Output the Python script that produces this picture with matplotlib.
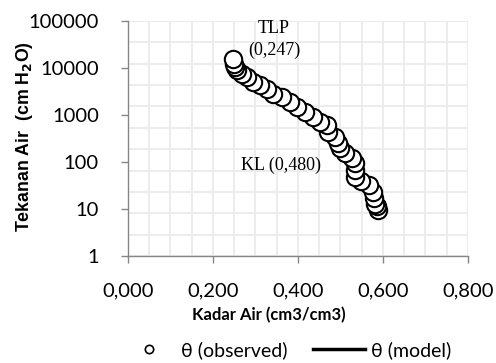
import numpy as np
import matplotlib
matplotlib.use('Agg')
import matplotlib.pyplot as plt
from matplotlib.lines import Line2D
from matplotlib.ticker import FixedLocator, FuncFormatter, NullLocator

# soil water retention data (wet -> dry)
theta_obs = [0.588, 0.586, 0.582, 0.580, 0.576, 0.568, 0.548, 0.535, 0.534, 0.534,
             0.527, 0.511, 0.499, 0.494, 0.487, 0.471, 0.468, 0.452, 0.436, 0.416,
             0.397, 0.381, 0.362, 0.342, 0.326, 0.310, 0.295, 0.279, 0.268, 0.257,
             0.252, 0.249, 0.246]
h_obs = [9.5, 11.5, 13, 17, 23, 32, 40, 48, 67, 94,
         121, 154, 196, 251, 337, 429, 604, 710, 907, 1160,
         1480, 1890, 2410, 2850, 3640, 4280, 5020, 6410, 7570, 8890,
         10400, 12300, 15700]
theta_model = theta_obs
h_model = h_obs

x_ticks = [0.0, 0.2, 0.4, 0.6, 0.8]
y_ticks = [1, 10, 100, 1000, 10000, 100000]

plt.rcParams['font.family'] = ['Lato', 'DejaVu Sans']

fig = plt.figure(figsize=(4.96, 3.63), dpi=100)
ax = fig.add_axes([0.258, 0.2948, 0.6855, 0.6473])

# light square background grid
for i in range(1, 17):
    ax.plot([i / 16, i / 16], [0, 1], transform=ax.transAxes, color='#ebebeb', lw=1.3, zorder=0)
for i in range(0, 12):
    ax.plot([0, 1], [i / 11, i / 11], transform=ax.transAxes, color='#ebebeb', lw=1.3, zorder=0)

ax.plot(theta_model, h_model, color='black', lw=2.5, zorder=2)
ax.plot(theta_obs, h_obs, ls='none', marker='o', ms=12.5, mfc='white', mec='black', mew=1.5, zorder=3)

ax.set_yscale('log')
ax.set_xlim(0, 0.8)
ax.set_ylim(1, 100000)
ax.xaxis.set_major_locator(FixedLocator(x_ticks))
ax.yaxis.set_major_locator(FixedLocator(y_ticks))
ax.yaxis.set_minor_locator(NullLocator())
ax.xaxis.set_major_formatter(FuncFormatter(lambda v, p: ('%.3f' % v).replace('.', ',')))
ax.yaxis.set_major_formatter(FuncFormatter(lambda v, p: '%d' % v))
ax.tick_params(axis='both', labelsize=14.5, color='#868686', length=5, width=1, labelcolor='#000000')
ax.tick_params(axis='x', pad=14)
ax.tick_params(axis='y', pad=16)

for s in ['top', 'right']:
    ax.spines[s].set_visible(False)
for s in ['left', 'bottom']:
    ax.spines[s].set_color('#868686')
    ax.spines[s].set_linewidth(1)

ax.text(0.3435, 69500, 'TLP', ha='center', va='center', fontsize=13, family='Liberation Serif')
ax.text(0.3435, 23600, '(0,247)', ha='center', va='center', fontsize=13, family='Liberation Serif')
ax.text(0.359, 85.5, 'KL (0,480)', ha='center', va='center', fontsize=13, family='Liberation Serif')

fig.text(25 / 496, 1 - 136.5 / 363, 'Tekanan Air  (cm H$_\\mathbf{2}$O)', rotation=90, ha='center',
         va='center', fontsize=12.8, fontweight='bold', family='Liberation Sans')
fig.text(269 / 496, 1 - 315 / 363, 'Kadar Air (cm3/cm3)', ha='center', va='center',
         fontsize=12, fontweight='bold')

handles = [Line2D([], [], ls='none', marker='o', ms=6, mfc='white', mec='black', mew=1.2),
           Line2D([], [], color='black', lw=2.5)]
fig.legend(handles, ['θ (observed)', 'θ (model)'], loc='center', ncol=2,
           bbox_to_anchor=(287 / 496, 1 - 350 / 363), frameon=False, fontsize=14,
           handlelength=2.7, handletextpad=0.3, columnspacing=1.3)

plt.savefig('out.png', dpi=100)
